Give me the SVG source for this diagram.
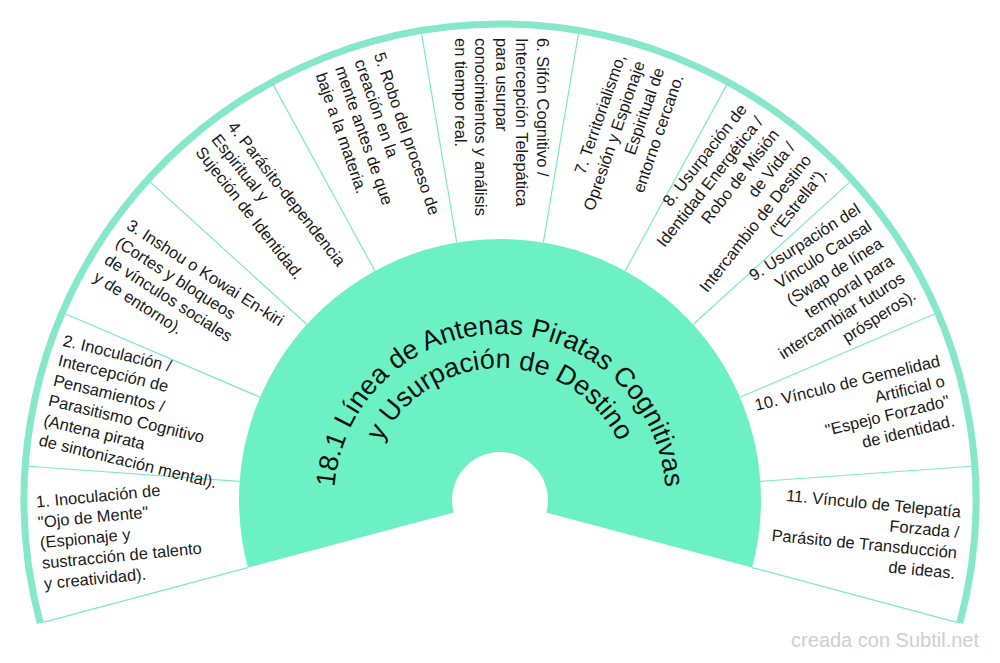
<svg xmlns="http://www.w3.org/2000/svg" width="1000" height="663" viewBox="0 0 1000 663">
<style>
.seg{fill:#1a1a1a;font-family:"Liberation Sans",Arial,sans-serif;font-size:16.5px}
.l{text-anchor:start}
.r{text-anchor:end}
.div{stroke:#7ee8c6;stroke-width:1.2;fill:none}
.title{fill:#111;font-family:"Liberation Sans",Arial,sans-serif;font-size:27px;text-anchor:middle}
</style>
<defs>
<path id="arc1" d="M 334 500 A 166 166 0 0 1 666 500"/>
<path id="arc2" d="M 368 500 A 132 132 0 0 1 632 500"/>
</defs>
<rect width="1000" height="663" fill="#fff"/>
<g id="center">
<path d="M 247.89 567.55 A 261 261 0 1 1 752.11 567.55 L 546.36 512.42 A 48 48 0 1 0 453.64 512.42 Z" fill="#6cf1c5"/>
<text class="title"><textPath href="#arc1" startOffset="50%">18.1 Línea de Antenas Piratas Cognitivas</textPath></text>
<text class="title"><textPath href="#arc2" startOffset="50%">y Usurpación de Destino</textPath></text>
</g>
<g id="connectors">
<line class="div" x1="239" y1="500" x2="27" y2="500" transform="rotate(-15 500 500)"/>
<line class="div" x1="239" y1="500" x2="27" y2="500" transform="rotate(4.0909 500 500)"/>
<line class="div" x1="239" y1="500" x2="27" y2="500" transform="rotate(23.1818 500 500)"/>
<line class="div" x1="239" y1="500" x2="27" y2="500" transform="rotate(42.2727 500 500)"/>
<line class="div" x1="239" y1="500" x2="27" y2="500" transform="rotate(61.3636 500 500)"/>
<line class="div" x1="239" y1="500" x2="27" y2="500" transform="rotate(80.4545 500 500)"/>
<line class="div" x1="239" y1="500" x2="27" y2="500" transform="rotate(99.5455 500 500)"/>
<line class="div" x1="239" y1="500" x2="27" y2="500" transform="rotate(118.6364 500 500)"/>
<line class="div" x1="239" y1="500" x2="27" y2="500" transform="rotate(137.7273 500 500)"/>
<line class="div" x1="239" y1="500" x2="27" y2="500" transform="rotate(156.8182 500 500)"/>
<line class="div" x1="239" y1="500" x2="27" y2="500" transform="rotate(175.9091 500 500)"/>
<line class="div" x1="239" y1="500" x2="27" y2="500" transform="rotate(195 500 500)"/>
</g>
<g id="ring">
<path d="M 40.22 623.2 A 476 476 0 1 1 959.78 623.2" fill="none" stroke="#86e8c8" stroke-width="7"/>
</g>
<g id="s1" transform="rotate(-5.4545 500 500)">
<text class="seg l"><tspan x="38" y="463.5">1. Inoculación de</tspan><tspan x="38" y="484">"Ojo de Mente"</tspan><tspan x="38" y="504.5">(Espionaje y</tspan><tspan x="38" y="525">sustracción de talento</tspan><tspan x="38" y="545.5">y creatividad).</tspan></text>
</g>
<g id="s2" transform="rotate(13.6364 500 500)">
<text class="seg l"><tspan x="38" y="453.25">2. Inoculación /</tspan><tspan x="38" y="473.75">Intercepción de</tspan><tspan x="38" y="494.25">Pensamientos /</tspan><tspan x="38" y="514.75">Parasitismo Cognitivo</tspan><tspan x="38" y="535.25">(Antena pirata</tspan><tspan x="38" y="555.75">de sintonización mental).</tspan></text>
</g>
<g id="s3" transform="rotate(32.7273 500 500)">
<text class="seg l"><tspan x="38" y="473.75">3. Inshou o Kowai En-kiri</tspan><tspan x="38" y="494.25">(Cortes y bloqueos</tspan><tspan x="38" y="514.75">de vínculos sociales</tspan><tspan x="38" y="535.25">y de entorno).</tspan></text>
</g>
<g id="s4" transform="rotate(51.8182 500 500)">
<text class="seg l"><tspan x="38" y="484">4. Parásito-dependencia</tspan><tspan x="38" y="504.5">Espiritual y</tspan><tspan x="38" y="525">Sujeción de Identidad.</tspan></text>
</g>
<g id="s5" transform="rotate(70.9091 500 500)">
<text class="seg l"><tspan x="38" y="473.75">5. Robo del proceso de</tspan><tspan x="38" y="494.25">creación en la</tspan><tspan x="38" y="514.75">mente antes de que</tspan><tspan x="38" y="535.25">baje a la materia.</tspan></text>
</g>
<g id="s6" transform="rotate(90 500 500)">
<text class="seg l"><tspan x="38" y="463.5">6. Sifón Cognitivo /</tspan><tspan x="38" y="484">Intercepción Telepática</tspan><tspan x="38" y="504.5">para usurpar</tspan><tspan x="38" y="525">conocimientos y análisis</tspan><tspan x="38" y="545.5">en tiempo real.</tspan></text>
</g>
<g id="s7" transform="rotate(-70.9091 500 500)">
<text class="seg r"><tspan x="960" y="473.75">7. Territorialismo,</tspan><tspan x="960" y="494.25">Opresión y Espionaje</tspan><tspan x="960" y="514.75">Espiritual de</tspan><tspan x="960" y="535.25">entorno cercano.</tspan></text>
</g>
<g id="s8" transform="rotate(-51.8182 500 500)">
<text class="seg r"><tspan x="960" y="453.25">8. Usurpación de</tspan><tspan x="960" y="473.75">Identidad Energética /</tspan><tspan x="960" y="494.25">Robo de Misión</tspan><tspan x="960" y="514.75">de Vida /</tspan><tspan x="960" y="535.25">Intercambio de Destino</tspan><tspan x="960" y="555.75">("Estrella").</tspan></text>
</g>
<g id="s9" transform="rotate(-32.7273 500 500)">
<text class="seg r"><tspan x="960" y="453.25">9. Usurpación del</tspan><tspan x="960" y="473.75">Vínculo Causal</tspan><tspan x="960" y="494.25">(Swap de línea</tspan><tspan x="960" y="514.75">temporal para</tspan><tspan x="960" y="535.25">intercambiar futuros</tspan><tspan x="960" y="555.75">prósperos).</tspan></text>
</g>
<g id="s10" transform="rotate(-13.6364 500 500)">
<text class="seg r"><tspan x="960" y="473.75">10. Vínculo de Gemelidad</tspan><tspan x="960" y="494.25">Artificial o</tspan><tspan x="960" y="514.75">"Espejo Forzado"</tspan><tspan x="960" y="535.25">de identidad.</tspan></text>
</g>
<g id="s11" transform="rotate(5.4545 500 500)">
<text class="seg r"><tspan x="960" y="473.75">11. Vínculo de Telepatía</tspan><tspan x="960" y="494.25">Forzada /</tspan><tspan x="960" y="514.75">Parásito de Transducción</tspan><tspan x="960" y="535.25">de ideas.</tspan></text>
</g>
<text x="979" y="647" fill="#cfcfcf" font-family="Liberation Sans, Arial, sans-serif" font-size="20" text-anchor="end">creada con Subtil.net</text>
</svg>
